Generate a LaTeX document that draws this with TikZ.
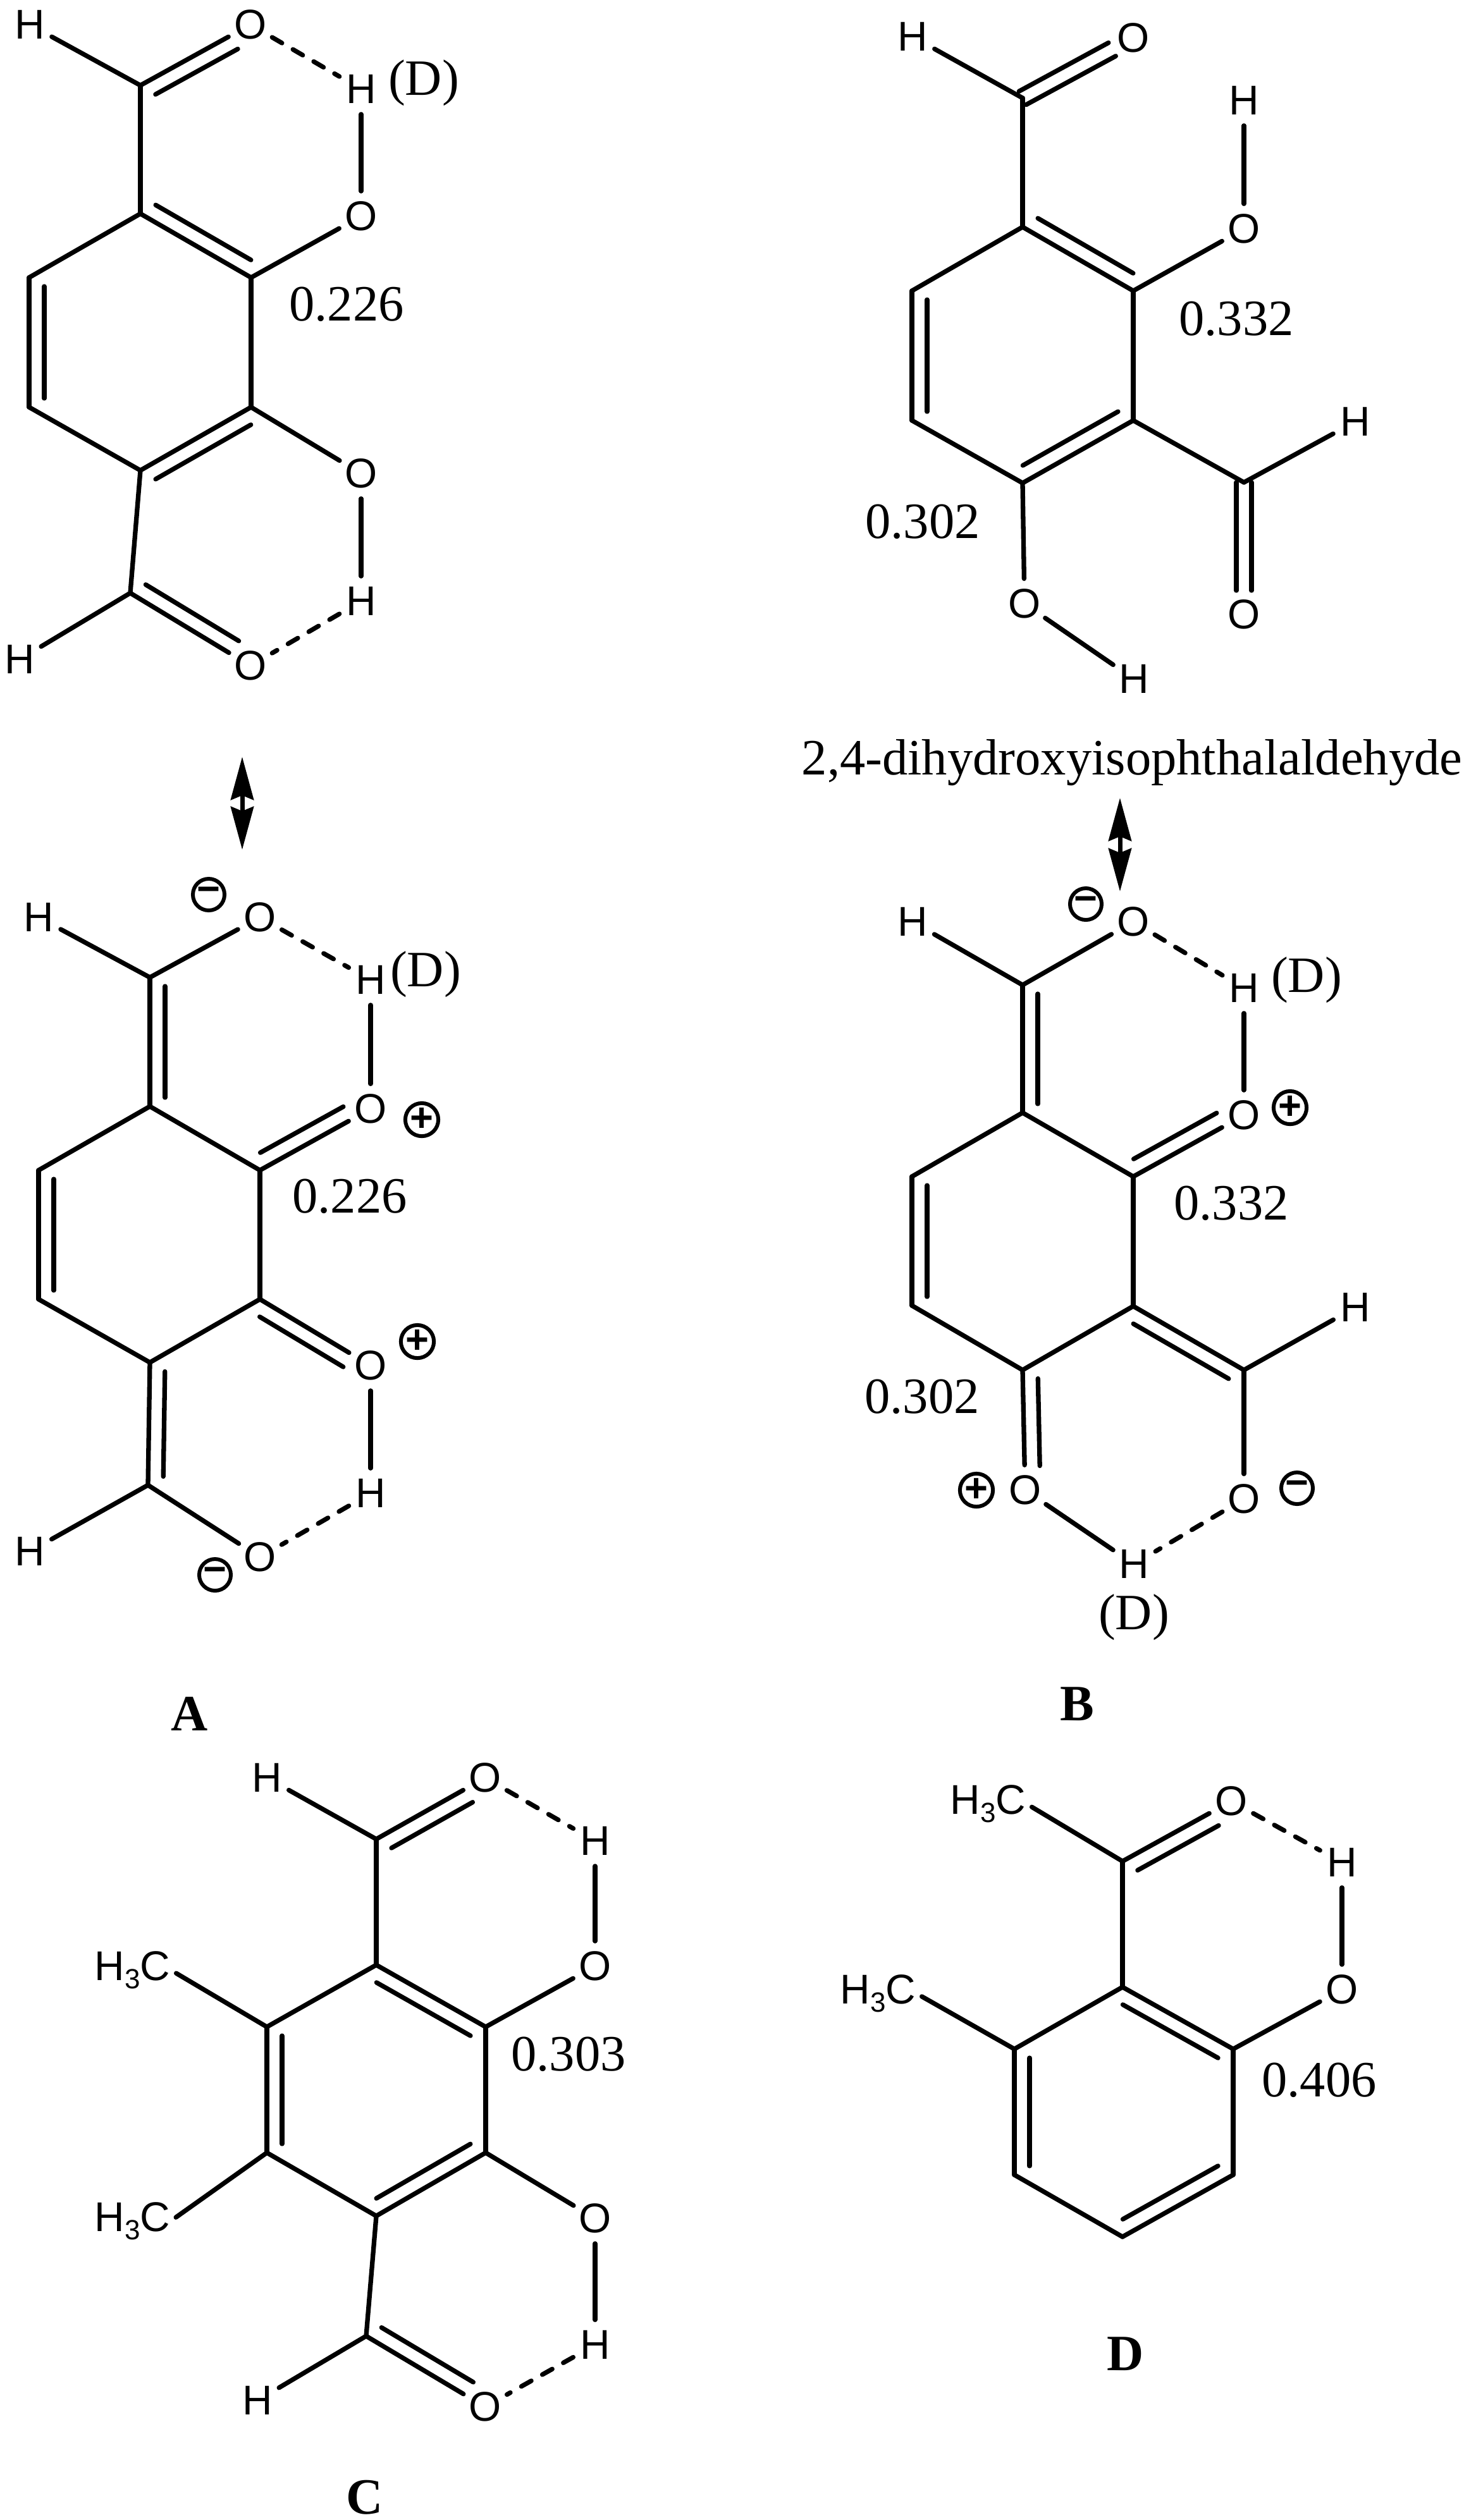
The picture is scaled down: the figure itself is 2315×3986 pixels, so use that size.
\documentclass[tikz,border=0pt]{standalone}
\usepackage{fontspec}
\usetikzlibrary{arrows.meta,calc}
\setmainfont{Liberation Serif}
\newfontfamily\atomfont{Liberation Sans}
\tikzset{
  atom/.style={circle,inner sep=0pt,minimum size=.78cm,font=\atomfont\fontsize{18.7}{18.7}\selectfont},
  methyl/.style={inner sep=0pt,anchor=east,font=\atomfont\fontsize{18.7}{18.7}\selectfont},
  value/.style={inner sep=0pt,font=\fontsize{22.9}{24}\selectfont},
  tag/.style={inner sep=0pt,font=\bfseries\fontsize{22.9}{24}\selectfont},
  charge/.style={circle,draw,line width=.06cm,inner sep=0pt,minimum size=.5cm,font=\atomfont\bfseries\fontsize{18}{18}\selectfont},
  bond/.style={line width=.073cm,line cap=round},
  bondtwo/.style={shorten <=.14cm,shorten >=.14cm},
  hbond/.style={dash pattern=on .18cm off .2cm},
  swap/.style={line width=.07cm,{Stealth[length=.68cm,width=.36cm,inset=.07cm]}-{Stealth[length=.68cm,width=.36cm,inset=.07cm]}}
}
\newcommand{\dblbond}[4][]{\draw[bondtwo,#1] ($(#3)!#2cm!90:(#4)$) -- ($(#4)!#2cm!-90:(#3)$);}
\newcommand{\hthree}{H\raisebox{-.2em}{\fontsize{12.5}{12.5}\selectfont 3}C}
\begin{document}
\begin{tikzpicture}[x=.01cm,y=-.01cm]
    \useasboundingbox (0,0) rectangle (2315,3986);
    %% Upper left structure
    \node[atom] (tAh1) at (47,39) {H};
    \node[atom] (tAo1) at (396,39) {O};
    \node[atom] (tAh2) at (571,141) {H};
    \node[atom] (tAo2) at (571,342) {O};
    \node[atom] (tAo3) at (571,749) {O};
    \node[atom] (tAh3) at (571,951) {H};
    \node[atom] (tAo4) at (396,1053) {O};
    \node[atom] (tAh4) at (31,1043) {H};
    \coordinate (tAc1) at (222,135);
    \coordinate (tAc2) at (206,938);
    \coordinate (tAr1) at (222,338);
    \coordinate (tAr2) at (397,439);
    \coordinate (tAr3) at (397,644);
    \coordinate (tAr4) at (222,744);
    \coordinate (tAr5) at (46,644);
    \coordinate (tAr6) at (46,439);
    \node[value] (tAd) at (670,131) {(D)};
    \node[value] (tAv) at (548,481) {0.226};
    %% Lower left structure
    \node[atom] (lAh1) at (61,1451) {H};
    \node[atom] (lAo1) at (411,1451) {O};
    \node[atom] (lAh2) at (586,1550) {H};
    \node[atom] (lAo2) at (586,1754) {O};
    \node[atom] (lAo3) at (586,2160) {O};
    \node[atom] (lAh3) at (586,2362) {H};
    \node[atom] (lAo4) at (411,2463) {O};
    \node[atom] (lAh4) at (47,2454) {H};
    \coordinate (lAc1) at (237,1546);
    \coordinate (lAc2) at (234,2349);
    \coordinate (lAr1) at (237,1750);
    \coordinate (lAr2) at (411,1851);
    \coordinate (lAr3) at (411,2055);
    \coordinate (lAr4) at (237,2155);
    \coordinate (lAr5) at (61,2055);
    \coordinate (lAr6) at (61,1851);
    \node[charge] (lAm1) at (330,1415) {−};
    \node[charge] (lAp1) at (667,1771) {+};
    \node[charge] (lAp2) at (660,2122) {+};
    \node[charge] (lAm2) at (340,2491) {−};
    \node[value] (lAd) at (673,1541) {(D)};
    \node[value] (lAv) at (553,1892) {0.226};
    \node[tag] (tagA) at (300,2711) {A};
    %% Upper right structure
    \node[atom] (tBh1) at (1443,58) {H};
    \node[atom] (tBo1) at (1792,60) {O};
    \node[atom] (tBh2) at (1967,159) {H};
    \node[atom] (tBo2) at (1967,362) {O};
    \node[atom] (tBh3) at (2143,667) {H};
    \node[atom] (tBo3) at (1967,972) {O};
    \node[atom] (tBo4) at (1620,955) {O};
    \node[atom] (tBh4) at (1793,1074) {H};
    \coordinate (tBc1) at (1617,155);
    \coordinate (tBc2) at (1967,763);
    \coordinate (tBr1) at (1617,359);
    \coordinate (tBr2) at (1792,460);
    \coordinate (tBr3) at (1792,665);
    \coordinate (tBr4) at (1617,764);
    \coordinate (tBr5) at (1442,665);
    \coordinate (tBr6) at (1442,460);
    \node[value] (tBv1) at (1955,504) {0.332};
    \node[value] (tBv2) at (1459,825) {0.302};
    \node[value] (title) at (1790,1206) {2,4-dihydroxyisophthalaldehyde};
    %% Lower right structure
    \node[atom] (lBh1) at (1443,1458) {H};
    \node[atom] (lBo1) at (1792,1458) {O};
    \node[atom] (lBh2) at (1967,1563) {H};
    \node[atom] (lBo2) at (1967,1764) {O};
    \node[atom] (lBh3) at (2143,2068) {H};
    \node[atom] (lBo3) at (1967,2371) {O};
    \node[atom] (lBo4) at (1621,2357) {O};
    \node[atom] (lBh4) at (1793,2474) {H};
    \coordinate (lBc1) at (1617,1558);
    \coordinate (lBc2) at (1967,2167);
    \coordinate (lBr1) at (1617,1760);
    \coordinate (lBr2) at (1792,1861);
    \coordinate (lBr3) at (1792,2066);
    \coordinate (lBr4) at (1617,2167);
    \coordinate (lBr5) at (1442,2065);
    \coordinate (lBr6) at (1442,1861);
    \node[charge] (lBm1) at (1717,1430) {−};
    \node[charge] (lBp1) at (2040,1752) {+};
    \node[charge] (lBm2) at (2051,2354) {−};
    \node[charge] (lBp2) at (1544,2357) {+};
    \node[value] (lBd1) at (2066,1550) {(D)};
    \node[value] (lBd2) at (1793,2558) {(D)};
    \node[value] (lBv1) at (1947,1903) {0.332};
    \node[value] (lBv2) at (1458,2209) {0.302};
    \node[tag] (tagB) at (1703,2695) {B};
    %% Structure C
    \node[atom] (Ch1) at (422,2812) {H};
    \node[atom] (Co1) at (767,2812) {O};
    \node[atom] (Ch2) at (941,2912) {H};
    \node[atom] (Co2) at (941,3110) {O};
    \node[atom] (Co3) at (941,3509) {O};
    \node[atom] (Ch3) at (941,3709) {H};
    \node[atom] (Co4) at (767,3807) {O};
    \node[atom] (Ch4) at (407,3797) {H};
    \coordinate (Cc1) at (595,2909);
    \coordinate (Cc2) at (579,3695);
    \coordinate (Cr1) at (595,3108);
    \coordinate (Cr2) at (768,3206);
    \coordinate (Cr3) at (768,3405);
    \coordinate (Cr4) at (595,3505);
    \coordinate (Cr5) at (422,3405);
    \coordinate (Cr6) at (422,3206);
    \node[methyl] (Cme1) at (270,3116) {\hthree};
    \node[methyl] (Cme2) at (270,3513) {\hthree};
    \node[value] (Cv) at (899,3249) {0.303};
    \node[tag] (tagC) at (577,3950) {C};
    %% Structure D
    \node[atom] (Do1) at (1947,2849) {O};
    \node[atom] (Dh1) at (2122,2946) {H};
    \node[atom] (Do2) at (2122,3147) {O};
    \coordinate (Dc1) at (1775,2944);
    \coordinate (Dr1) at (1775,3143);
    \coordinate (Dr2) at (1950,3241);
    \coordinate (Dr3) at (1950,3440);
    \coordinate (Dr4) at (1775,3538);
    \coordinate (Dr5) at (1604,3440);
    \coordinate (Dr6) at (1604,3241);
    \node[methyl] (Dme1) at (1623,2853) {\hthree};
    \node[methyl] (Dme2) at (1449,3153) {\hthree};
    \node[value] (Dv) at (2086,3290) {0.406};
    \node[tag] (tagD) at (1780,3723) {D};
    %% Resonance arrows
    \coordinate (arrAa) at (383,1197);
    \coordinate (arrAb) at (383,1344);
    \coordinate (arrBa) at (1771,1262);
    \coordinate (arrBb) at (1771,1410);
    \draw[swap] (arrAa) -- (arrAb);
    \draw[swap] (arrBa) -- (arrBb);
    %% Draw the bonds
    \begin{scope}[every path/.style={bond}]
      %% Upper left
      \draw (tAh1) -- (tAc1);
      \draw (tAc1) -- (tAo1);
      \dblbond[shorten <=.36cm]{.24}{tAo1}{tAc1}
      \draw (tAc1) -- (tAr1);
      \draw (tAr1) -- (tAr2);
      \dblbond{.24}{tAr1}{tAr2}
      \draw (tAr2) -- (tAr3);
      \draw (tAr3) -- (tAr4);
      \dblbond{.24}{tAr3}{tAr4}
      \draw (tAr4) -- (tAr5);
      \draw (tAr5) -- (tAr6);
      \dblbond{.24}{tAr6}{tAr5}
      \draw (tAr6) -- (tAr1);
      \draw (tAr2) -- (tAo2);
      \draw (tAo2) -- (tAh2);
      \draw[hbond] (tAo1) -- (tAh2);
      \draw (tAr3) -- (tAo3);
      \draw (tAo3) -- (tAh3);
      \draw[hbond] (tAh3) -- (tAo4);
      \draw (tAr4) -- (tAc2);
      \draw (tAc2) -- (tAh4);
      \draw (tAc2) -- (tAo4);
      \dblbond[shorten >=.36cm]{.24}{tAc2}{tAo4}
      %% Lower left
      \draw (lAh1) -- (lAc1);
      \draw (lAc1) -- (lAo1);
      \draw[hbond] (lAo1) -- (lAh2);
      \draw (lAc1) -- (lAr1);
      \dblbond{.24}{lAc1}{lAr1}
      \draw (lAr1) -- (lAr2);
      \draw (lAr2) -- (lAr3);
      \draw (lAr3) -- (lAr4);
      \draw (lAr4) -- (lAr5);
      \draw (lAr5) -- (lAr6);
      \dblbond{.24}{lAr6}{lAr5}
      \draw (lAr6) -- (lAr1);
      \draw (lAr2) -- (lAo2);
      \dblbond[shorten >=.36cm]{.24}{lAr2}{lAo2}
      \draw (lAo2) -- (lAh2);
      \draw (lAr3) -- (lAo3);
      \dblbond[shorten <=.36cm]{.24}{lAo3}{lAr3}
      \draw (lAo3) -- (lAh3);
      \draw[hbond] (lAh3) -- (lAo4);
      \draw (lAr4) -- (lAc2);
      \dblbond{.24}{lAr4}{lAc2}
      \draw (lAc2) -- (lAh4);
      \draw (lAc2) -- (lAo4);
      %% Upper right
      \draw (tBh1) -- (tBc1);
      \dblbond[shorten <=.0cm,shorten >=.38cm]{.12}{tBc1}{tBo1}
      \dblbond[shorten <=.38cm,shorten >=.0cm]{.12}{tBo1}{tBc1}
      \draw (tBc1) -- (tBr1);
      \draw (tBr1) -- (tBr2);
      \dblbond{.24}{tBr1}{tBr2}
      \draw (tBr2) -- (tBr3);
      \draw (tBr3) -- (tBr4);
      \dblbond{.24}{tBr4}{tBr3}
      \draw (tBr4) -- (tBr5);
      \draw (tBr5) -- (tBr6);
      \dblbond{.24}{tBr6}{tBr5}
      \draw (tBr6) -- (tBr1);
      \draw (tBr2) -- (tBo2);
      \draw (tBo2) -- (tBh2);
      \draw (tBr3) -- (tBc2);
      \draw (tBc2) -- (tBh3);
      \dblbond[shorten <=.0cm,shorten >=.38cm]{.12}{tBc2}{tBo3}
      \dblbond[shorten <=.38cm,shorten >=.0cm]{.12}{tBo3}{tBc2}
      \draw (tBr4) -- (tBo4);
      \draw (tBo4) -- (tBh4);
      %% Lower right
      \draw (lBh1) -- (lBc1);
      \draw (lBc1) -- (lBo1);
      \draw[hbond] (lBo1) -- (lBh2);
      \draw (lBc1) -- (lBr1);
      \dblbond{.24}{lBc1}{lBr1}
      \draw (lBr1) -- (lBr2);
      \draw (lBr2) -- (lBr3);
      \draw (lBr3) -- (lBr4);
      \draw (lBr4) -- (lBr5);
      \draw (lBr5) -- (lBr6);
      \dblbond{.24}{lBr6}{lBr5}
      \draw (lBr6) -- (lBr1);
      \draw (lBr2) -- (lBo2);
      \dblbond[shorten >=.36cm]{.24}{lBr2}{lBo2}
      \draw (lBo2) -- (lBh2);
      \draw (lBr3) -- (lBc2);
      \dblbond{.24}{lBc2}{lBr3}
      \draw (lBc2) -- (lBh3);
      \draw (lBc2) -- (lBo3);
      \draw[hbond] (lBo3) -- (lBh4);
      \draw (lBr4) -- (lBo4);
      \dblbond[shorten >=.38cm]{.24}{lBr4}{lBo4}
      \draw (lBo4) -- (lBh4);
      %% Structure C
      \draw (Ch1) -- (Cc1);
      \draw (Cc1) -- (Co1);
      \dblbond[shorten <=.36cm]{.24}{Co1}{Cc1}
      \draw[hbond] (Co1) -- (Ch2);
      \draw (Cc1) -- (Cr1);
      \draw (Cr1) -- (Cr2);
      \dblbond{.24}{Cr2}{Cr1}
      \draw (Cr2) -- (Cr3);
      \draw (Cr3) -- (Cr4);
      \dblbond{.24}{Cr4}{Cr3}
      \draw (Cr4) -- (Cr5);
      \draw (Cr5) -- (Cr6);
      \dblbond{.24}{Cr6}{Cr5}
      \draw (Cr6) -- (Cr1);
      \draw (Cr2) -- (Co2);
      \draw (Co2) -- (Ch2);
      \draw (Cr3) -- (Co3);
      \draw (Co3) -- (Ch3);
      \draw[hbond] (Ch3) -- (Co4);
      \draw (Cr4) -- (Cc2);
      \draw (Cc2) -- (Ch4);
      \draw (Cc2) -- (Co4);
      \dblbond[shorten >=.36cm]{.24}{Cc2}{Co4}
      \draw[shorten <=.1cm] (Cme1.east) -- (Cr6);
      \draw[shorten <=.1cm] (Cme2.east) -- (Cr5);
      %% Structure D
      \draw[shorten <=.1cm] (Dme1.east) -- (Dc1);
      \draw (Dc1) -- (Do1);
      \dblbond[shorten <=.36cm]{.24}{Do1}{Dc1}
      \draw[hbond] (Do1) -- (Dh1);
      \draw (Dc1) -- (Dr1);
      \draw (Dr1) -- (Dr2);
      \dblbond{.24}{Dr2}{Dr1}
      \draw (Dr2) -- (Dr3);
      \draw (Dr3) -- (Dr4);
      \dblbond{.24}{Dr4}{Dr3}
      \draw (Dr4) -- (Dr5);
      \draw (Dr5) -- (Dr6);
      \dblbond{.24}{Dr6}{Dr5}
      \draw (Dr6) -- (Dr1);
      \draw (Dr2) -- (Do2);
      \draw (Do2) -- (Dh1);
      \draw[shorten <=.1cm] (Dme2.east) -- (Dr6);
    \end{scope}
  \end{tikzpicture}
\end{document}
